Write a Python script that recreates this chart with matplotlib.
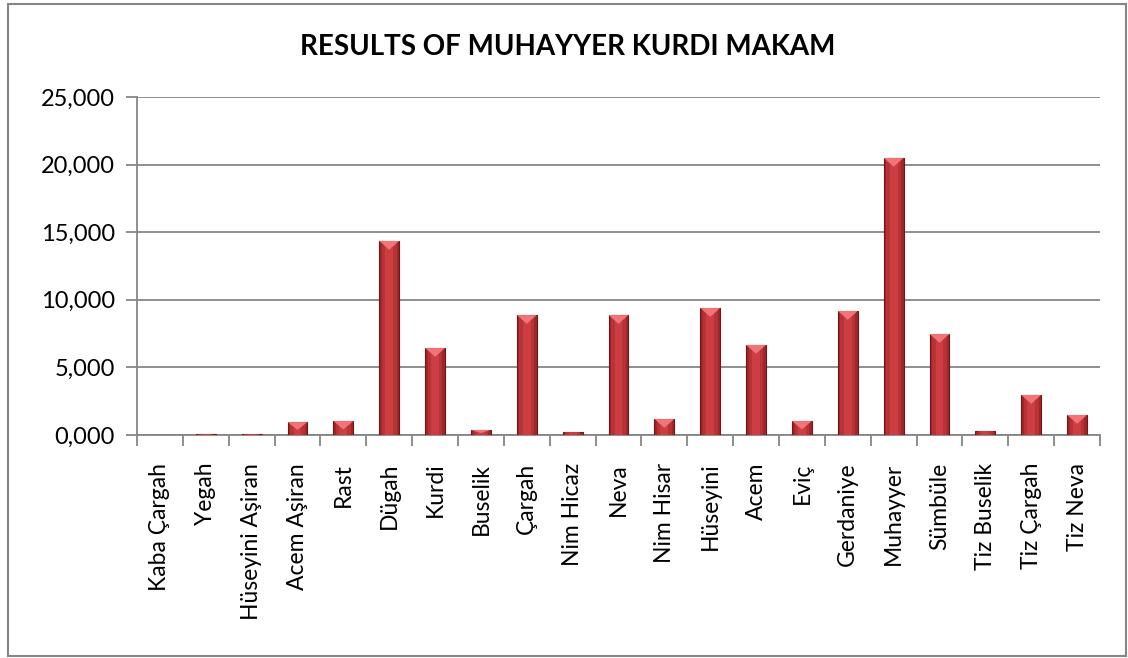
import numpy as np
import matplotlib.pyplot as plt
from matplotlib.patches import Rectangle, Polygon
from matplotlib.ticker import FuncFormatter

# Muhayyer Kurdi makam results per note
notes = ["Kaba Çargah", "Yegah", "Hüseyini Aşiran", "Acem Aşiran", "Rast",
         "Dügah", "Kurdi", "Buselik", "Çargah", "Nim Hicaz", "Neva",
         "Nim Hisar", "Hüseyini", "Acem", "Eviç", "Gerdaniye", "Muhayyer",
         "Sümbüle", "Tiz Buselik", "Tiz Çargah", "Tiz Neva"]
values = [0.0, 0.05, 0.05, 0.95, 1.03, 14.35, 6.43, 0.37, 8.87, 0.20, 8.87,
          1.18, 9.39, 6.66, 1.03, 9.17, 20.49, 7.47, 0.27, 2.96, 1.48]

plt.rcParams['font.family'] = ['Lato', 'DejaVu Sans']

fig = plt.figure(figsize=(11.28, 6.58), dpi=100)
ax = fig.add_axes([137 / 1128, 1 - 435 / 658, (1100 - 137) / 1128, (435 - 97) / 658])

# outer chart border
fig.add_artist(Rectangle((8 / 1128, 2 / 658), 1118 / 1128, 652 / 658,
                         transform=fig.transFigure, fill=False,
                         edgecolor="#868686", linewidth=1.5))

x = np.arange(len(notes))
vals = np.array(values)
w = 0.43

# bevelled look: dark body, lighter centre strip, light chevron on top
ax.bar(x, vals, width=w, color="#9E272A", edgecolor="#6E1618", linewidth=0.8, zorder=3)
ax.bar(x, vals, width=w * 0.75, color="#B83236", linewidth=0, zorder=4)
ax.bar(x, vals, width=w * 0.4, color="#CC3E42", linewidth=0, zorder=4)
d = 0.65
for xi, v in zip(x, vals):
    if v > 0.3:
        h = min(d, v * 0.6)
        ax.add_patch(Polygon([(xi - w / 2, v), (xi + w / 2, v), (xi, v - h)],
                             closed=True, color="#F07478", linewidth=0, zorder=5))

ax.set_xlim(-0.5, len(notes) - 0.5)
ax.set_ylim(0, 25)
ax.set_yticks(np.arange(0, 26, 5))
ax.yaxis.set_major_formatter(FuncFormatter(lambda v, p: f"{v:.3f}".replace(".", ",")))
ax.yaxis.grid(True, color="#868686", linewidth=1.3, zorder=0)
ax.set_axisbelow(True)

ax.set_xticks(np.arange(len(notes) + 1) - 0.5, minor=False)
ax.set_xticklabels([])
ax.set_xticks(x, minor=True)
ax.set_xticklabels(notes, minor=True, rotation=90, fontsize=16.5, va="top")
ax.tick_params(axis="x", which="minor", length=0, pad=20)
ax.tick_params(axis="x", which="major", length=8, color="#868686", width=1.3)
ax.tick_params(axis="y", length=8, color="#868686", width=1.3, labelsize=17, pad=8)

for side in ["top", "right"]:
    ax.spines[side].set_visible(False)
for side in ["left", "bottom"]:
    ax.spines[side].set_color("#868686")
    ax.spines[side].set_linewidth(1.3)

fig.text(568 / 1128, 1 - 47 / 658, "RESULTS OF MUHAYYER KURDI MAKAM",
         ha="center", va="center", fontsize=20, fontweight="bold")

fig.savefig("out.png", dpi=100)
